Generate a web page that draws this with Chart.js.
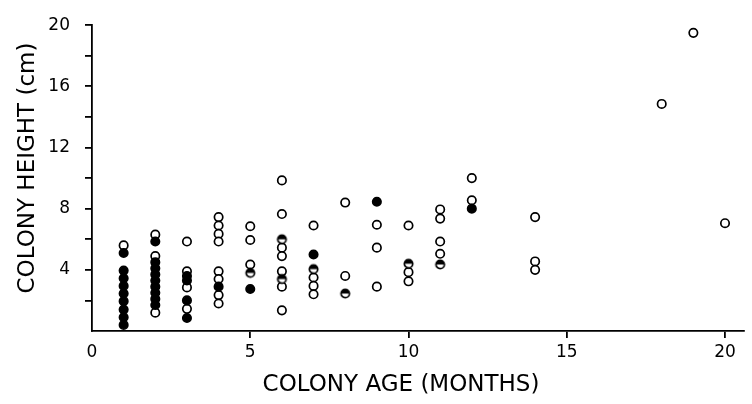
<!DOCTYPE html>
<html>
<head>
<meta charset="utf-8">
<script src="https://cdn.jsdelivr.net/npm/chart.js@4.4.0/dist/chart.umd.min.js"></script>
<style>
  html, body { margin: 0; padding: 0; background: #fff; }
</style>
</head>
<body>
<canvas id="scatter-chart" width="752" height="404"></canvas>
<script>
// Colony height (cm) against colony age (months)
// open circles
const openAge = [1, 2, 2, 2, 3, 3, 3, 3, 4, 4, 4, 4, 4, 4, 4, 4, 5, 5, 5,
    6, 6, 6, 6, 6, 6, 6, 7, 7, 7, 7, 8, 8, 9, 9, 9, 10, 10, 10,
    11, 11, 11, 11, 12, 12, 14, 14, 14, 18, 19, 20];
const openHeight = [5.6, 6.3, 4.9, 1.2, 5.85, 3.9, 2.85, 1.45, 7.45, 6.9, 6.35, 5.85, 3.9, 3.4, 2.35, 1.8, 6.85, 5.95, 4.35,
    9.85, 7.65, 5.45, 4.9, 3.9, 2.9, 1.35, 6.9, 3.5, 2.95, 2.4, 8.4, 3.6, 6.95, 5.45, 2.9, 6.9, 3.85, 3.25,
    7.95, 7.35, 5.85, 5.05, 10.0, 8.55, 7.45, 4.55, 4.0, 14.85, 19.5, 7.05];

// filled circles
const filledAge = [1, 1, 1, 1, 1, 1, 1, 1, 1, 2, 2, 2, 2, 2, 2, 2, 2, 2,
    3, 3, 3, 3, 4, 5, 7, 9, 12];
const filledHeight = [5.1, 3.95, 3.45, 2.95, 2.45, 1.95, 1.4, 0.9, 0.4, 5.85, 4.5, 4.1, 3.7, 3.3, 2.9, 2.5, 2.1, 1.7,
    3.6, 3.3, 2.0, 0.85, 2.9, 2.75, 5.0, 8.45, 8.0];

// half filled circles
const halfAge = [5, 6, 6, 7, 8, 10, 11];
const halfHeight = [3.8, 6.0, 3.4, 4.05, 2.45, 4.4, 4.35];

const xTicks = [0, 5, 10, 15, 20];
const yTicks = [4, 8, 12, 16, 20];

const xTitle = 'COLONY AGE (MONTHS)';
const yTitle = 'COLONY HEIGHT (cm)';

function toPoints(xs, ys) {
    return xs.map((x, i) => ({ x: x, y: ys[i] }));
}

// marker: top half black
const half = document.createElement('canvas');
half.width = 13;
half.height = 13;
const hc = half.getContext('2d');
hc.fillStyle = '#fff';
hc.beginPath();
hc.arc(6.5, 6.5, 4.2, 0, Math.PI * 2);
hc.fill();
hc.fillStyle = '#000';
hc.beginPath();
hc.arc(6.5, 6.5, 4.2, Math.PI, Math.PI * 2);
hc.fill();
hc.strokeStyle = '#000';
hc.lineWidth = 1.7;
hc.beginPath();
hc.arc(6.5, 6.5, 4.2, 0, Math.PI * 2);
hc.stroke();

const titles = {
    id: 'titles',
    afterDraw(chart) {
        const c = chart.ctx;
        c.save();
        c.fillStyle = '#000';
        c.font = '23px "DejaVu Sans"';
        c.textAlign = 'center';
        c.textBaseline = 'middle';
        c.fillText(xTitle, 401, 385);
        c.translate(28, 168);
        c.rotate(-Math.PI / 2);
        c.fillText(yTitle, 0, 0);
        c.restore();
    }
};

const ctx = document.getElementById('scatter-chart').getContext('2d');
const myChart = new Chart(ctx, {
    type: 'scatter',
    data: {
        datasets: [{
            label: 'open',
            data: toPoints(openAge, openHeight),
            backgroundColor: '#fff',
            borderColor: '#000',
            borderWidth: 1.7,
            pointRadius: 4.2,
            order: 2
        }, {
            label: 'half',
            data: toPoints(halfAge, halfHeight),
            pointStyle: half,
            order: 1
        }, {
            label: 'filled',
            data: toPoints(filledAge, filledHeight),
            backgroundColor: '#000',
            borderColor: '#000',
            borderWidth: 1.7,
            pointRadius: 4.2,
            order: 0
        }]
    },
    options: {
        responsive: false,
        animation: false,
        events: [],
        layout: {
            padding: { top: 16, right: 8, left: 0, bottom: 0 }
        },
        scales: {
            x: {
                type: 'linear',
                min: 0,
                max: 20.6,
                afterFit: (s) => { s.height = 73; },
                afterBuildTicks: (s) => { s.ticks = xTicks.map(v => ({ value: v })); },
                ticks: {
                    color: '#000',
                    padding: 4,
                    font: { family: 'DejaVu Sans', size: 17 }
                },
                grid: {
                    drawOnChartArea: false,
                    tickLength: 7,
                    lineWidth: 1.8,
                    color: (c) => (c.tick && c.tick.value === 0) ? 'rgba(0,0,0,0)' : '#000'
                },
                border: { display: true, color: '#000', width: 1.8 }
            },
            y: {
                type: 'linear',
                min: 0,
                max: 20,
                afterFit: (s) => { s.width = 92; },
                ticks: {
                    stepSize: 2,
                    color: '#000',
                    padding: 15,
                    font: { family: 'DejaVu Sans', size: 17 },
                    callback: (v) => yTicks.includes(v) ? String(v) : ''
                },
                grid: {
                    drawOnChartArea: false,
                    tickLength: 7,
                    lineWidth: 1.8,
                    color: (c) => (c.tick && c.tick.value === 0) ? 'rgba(0,0,0,0)' : '#000'
                },
                border: { display: true, color: '#000', width: 1.8 }
            }
        },
        plugins: {
            legend: { display: false },
            tooltip: { enabled: false }
        }
    },
    plugins: [titles]
});
</script>
</body>
</html>
